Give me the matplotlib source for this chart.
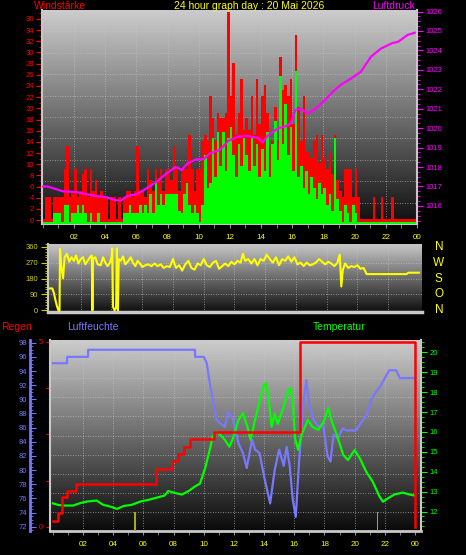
import matplotlib
matplotlib.use('Agg')
import matplotlib.pyplot as plt
import numpy as np
from matplotlib.ticker import MultipleLocator

plt.rcParams['font.family'] = ['Liberation Sans', 'DejaVu Sans']

# ---------------- data ----------------
title = '24 hour graph day : 20 Mai 2026'
hour_ticks = [2, 4, 6, 8, 10, 12, 14, 16, 18, 20, 22, 24]
hour_labels = ['02', '04', '06', '08', '10', '12', '14', '16', '18', '20', '22', '00']

# wind speed, one value per 10 minutes
gust = [
    0, 4, 4, 0, 4, 4,
    4, 4, 9, 13, 4, 5,
    9, 4, 5, 8, 9, 4,
    9, 5, 7, 4, 5, 4,
    4, 0, 4, 4, 0, 4,
    0, 4, 5, 5, 4, 5,
    13, 5, 5, 4, 9, 7,
    5, 9, 7, 9, 5, 9,
    9, 7, 13, 9, 5, 9,
    9, 9, 15, 9, 5, 9,
    9, 14, 15, 14, 22, 18,
    14, 19, 18, 18, 19, 37,
    22, 28, 15, 19, 25, 16,
    18, 16, 22, 15, 25, 17,
    22, 24, 19, 13, 14, 20,
    14, 29, 23, 24, 22, 25,
    17, 33, 20, 14, 22, 12,
    12, 11, 14, 15, 10, 15,
    11, 9, 12, 8, 15, 7,
    5, 4, 9, 9, 9, 4,
    9, 4, 0, 0, 0, 0,
    0, 4, 0, 0, 4, 0,
    0, 0, 4, 0, 0, 0,
    0, 0, 0, 0, 0, 0,
]
avg = [
    0, 0, 0, 0, 1.5, 1.5,
    1.5, 0, 3, 3, 0, 1.5,
    1.5, 3, 1.5, 3, 1.5, 0,
    1.5, 0, 0, 1.5, 0, 0,
    0, 0, 0, 0, 0, 0,
    0, 1.5, 1.5, 3, 1.5, 1.5,
    1.5, 3, 1.5, 3, 1.5, 5,
    1.5, 7, 3, 5, 3, 5,
    5, 5, 5, 5, 2, 1.5,
    5, 7, 3, 1.5, 3, 1.5,
    0, 3, 12, 6, 7, 15,
    8, 16, 10, 16, 9, 15,
    17, 12, 8, 14, 10, 15,
    12, 9, 15, 10, 14, 8,
    13, 9, 16, 8, 14, 18,
    11, 26, 14, 21, 12, 17,
    9, 27, 8, 10, 6, 9,
    5, 8, 6, 4, 7, 5,
    6, 3, 5, 2, 15, 4,
    2, 0, 3, 1.5, 0, 3,
    1.5, 0, 0, 0, 0, 0,
    0, 0, 0, 0, 0, 0,
    0, 0, 0, 0, 0, 0,
    0, 0, 0, 0, 0, 0,
]

press_h = [0, 0.3, 1.3, 2.1, 2.8, 3.5, 4.1, 4.6, 5.0, 5.4, 6.0, 6.65, 7.3, 7.95,
           8.5, 8.7, 8.9, 9.3, 9.85, 10.3, 10.7, 11.35, 11.9, 12.5, 13.1, 13.8,
           14.1, 14.4, 15.1, 15.6, 15.9, 16.2, 16.5, 17.0, 17.4, 18.1, 18.6,
           19.1, 19.8, 20.4, 21.05, 21.7, 22.4, 22.8, 23.4, 23.85]
press = [1017.0, 1017.0, 1016.75, 1016.72, 1016.6, 1016.5, 1016.45, 1016.3,
         1016.27, 1016.5, 1016.6, 1016.9, 1017.25, 1017.68, 1018.0, 1017.95,
         1017.85, 1018.2, 1018.4, 1018.4, 1018.7, 1018.88, 1019.35, 1019.56,
         1019.6, 1019.5, 1019.26, 1019.6, 1020.0, 1020.1, 1020.25, 1020.94,
         1021.0, 1020.77, 1020.94, 1021.45, 1021.88, 1022.22, 1022.57, 1022.9,
         1023.68, 1024.1, 1024.37, 1024.45, 1024.8, 1024.91]

dir_h = [0.0, 0.15, 0.25, 0.35, 0.45, 0.55, 0.62, 0.65, 0.75, 0.85, 0.95, 1.1,
         1.25, 1.4, 1.55, 1.7, 1.85, 2.0, 2.15, 2.3, 2.45, 2.6, 2.72, 2.76, 2.8,
         2.95, 3.1, 3.3, 3.45, 3.6, 3.75, 3.9, 4.0, 4.05, 4.1, 4.2, 4.3, 4.35,
         4.42, 4.47, 4.6, 4.75, 4.9, 5.1, 5.25, 5.4, 5.55, 5.7, 5.85, 6.0, 6.2,
         6.4, 6.6, 6.8, 7.0, 7.2, 7.4, 7.6, 7.8, 8.0, 8.2, 8.4, 8.6, 8.8, 9.0,
         9.2, 9.4, 9.6, 9.8, 10.0, 10.2, 10.4, 10.6, 10.8, 11.0, 11.2, 11.4,
         11.6, 11.8, 12.0, 12.2, 12.4, 12.55, 12.7, 12.9, 13.1, 13.3, 13.5,
         13.7, 13.9, 14.1, 14.3, 14.5, 14.7, 14.9, 15.1, 15.3, 15.5, 15.7,
         15.9, 16.1, 16.3, 16.5, 16.7, 16.9, 17.1, 17.3, 17.5, 17.7, 17.9,
         18.1, 18.3, 18.5, 18.7, 18.85, 18.95, 19.05, 19.2, 19.4, 19.6, 19.8,
         20.0, 20.2, 20.4, 20.6, 23.2, 23.3, 24.0]
dir_deg = [124, 124, 100, 60, 25, 0, 0, 347, 240, 181, 300, 320,
           275, 300, 280, 310, 265, 290, 300, 260, 280, 300, 310, 0, 290,
           300, 260, 255, 300, 270, 250, 270, 300, 350, 20, 0, 15, 350,
           0, 290, 280, 305, 260, 280, 300, 270, 250, 280, 265, 245, 255,
           260, 250, 265, 250, 260, 240, 250, 245, 290, 240, 255, 225, 260, 280,
           240, 230, 265, 255, 290, 255, 245, 270, 280, 235, 250, 265,
           250, 275, 260, 280, 270, 320, 280, 290, 265, 290, 255,
           290, 280, 315, 290, 270, 300, 255, 290, 280, 305, 275,
           300, 260, 270, 250, 270, 255, 260, 270, 290, 275, 260,
           275, 265, 250, 270, 315, 135, 230, 265, 240, 250, 245,
           255, 235, 240, 205, 205, 213, 213]
dir_letters = ['N', 'O', 'S', 'W', 'N']
dir_letter_deg = [0, 90, 180, 270, 360]

hum_h = [0, 0.94, 0.95, 2.33, 2.34, 9.42, 9.43, 10.0, 10.2, 10.4, 10.6, 10.85,
         11.1, 11.4, 11.6, 11.9, 12.3, 12.6, 12.85, 13.2, 13.4, 13.7, 14.0,
         14.4, 14.7, 15.0, 15.3, 15.5, 15.7, 15.9, 16.1, 16.3, 16.6, 16.8,
         17.0, 17.3, 17.6, 17.9, 18.2, 18.4, 18.6, 18.9, 19.2, 19.5, 20.1,
         20.4, 20.8, 21.1, 21.4, 21.75, 22.1, 22.3, 22.75, 23.0, 24.0]
hum = [95.1, 95.1, 96.0, 96.0, 97.0, 97.0, 96.0, 96.0, 95.1, 92.3, 89.9, 87.1,
       86.6, 86.1, 88.2, 87.5, 83.8, 82.4, 80.3, 84.3, 82.9, 82.4, 79.1,
       75.3, 80.0, 82.9, 80.6, 83.3, 80.6, 75.8, 73.4, 80.6, 89.4, 92.7,
       89.0, 87.1, 86.1, 86.6, 82.0, 81.2, 85.0, 84.5, 85.9, 85.6, 85.6,
       86.6, 87.8, 89.9, 91.0, 92.0, 93.4, 94.1, 94.1, 93.0, 93.0]

temp_h = [0, 0.36, 0.7, 1.35, 1.8, 2.25, 2.9, 3.35, 3.8, 4.25, 4.7, 5.2, 5.8,
          6.3, 6.9, 7.4, 7.65, 8.0, 8.55, 9.0, 9.4, 9.75, 10.1, 10.4, 10.6,
          10.9, 11.4, 11.7, 11.9, 12.3, 12.6, 12.9, 13.1, 13.4, 13.8, 14.0,
          14.15, 14.3, 14.5, 14.7, 14.9, 15.3, 15.6, 15.75, 15.9, 16.05, 16.25,
          16.5, 16.9, 17.2, 17.6, 18.0, 18.25, 18.5, 18.8, 19.25, 19.56, 20.0,
          20.33, 20.77, 21.2, 21.66, 21.88, 22.2, 22.65, 23.2, 23.6, 24.0]
temp = [12.41, 12.33, 12.3, 12.3, 12.42, 12.5, 12.55, 12.33, 12.25, 12.13,
        12.28, 12.33, 12.5, 12.58, 12.7, 12.8, 13.03, 12.95, 12.85, 13.03,
        13.25, 13.4, 14.2, 15.1, 15.8, 16.0, 15.6, 15.26, 15.6, 16.6, 16.93,
        16.26, 15.6, 16.6, 17.85, 18.36, 18.44, 17.68, 16.26, 16.93, 16.4,
        17.27, 18.1, 18.2, 17.5, 15.7, 15.1, 15.9, 16.6, 16.26, 16.1, 16.6,
        17.2, 16.5, 15.9, 14.84, 14.59, 15.09, 14.7, 14.0, 13.5, 12.74, 12.49,
        12.66, 12.86, 12.95, 12.86, 12.8]

rain_h = [0, 0.36, 0.59, 0.92, 1.54, 6.82, 7.88, 8.32, 8.7, 9.09, 10.65, 16.35, 24.0]
rain = [0.16, 0.38, 0.82, 0.97, 1.16, 1.56, 1.79, 1.96, 2.17, 2.38, 2.56, 5.0, 0.0]
rainrate_h = [5.45, 21.5]
rainrate = [0.4, 0.4]

# ---------------- style ----------------
RED = '#ff0000'
GREEN = '#00ff00'
MAG = '#ff00ff'
YEL = '#ffff00'
OLIVE = '#d0d000'
BLUE = '#7878ff'
FRAME = '#c8c8c8'
GRID = '#c8c8c8'
W, H = 466, 555
PX = 72 / 100  # points per pixel


def box(l, t, r, b):
    return [l / W, 1 - b / H, (r - l) / W, (b - t) / H]


def shade(ax, top, bottom):
    g = np.linspace(top, bottom, 256).reshape(-1, 1)
    ax.imshow(g, cmap='gray', vmin=0, vmax=1, aspect='auto', extent=(0, 1, 0, 1),
              transform=ax.transAxes, zorder=0, interpolation='bilinear')


def grid(ax, fracs):
    for f in fracs:
        ax.plot([0, 1], [f, f], transform=ax.transAxes, ls=(0, (1, 2)),
                color=GRID, lw=0.6, alpha=0.8, zorder=1)
    for h in hour_ticks[:-1]:
        ax.axvline(h, ls=(0, (1, 2)), color=GRID, lw=0.6, alpha=0.8, zorder=1)


def hide_spines(ax, keep=()):
    for s in ['left', 'right', 'top', 'bottom']:
        if s in keep:
            ax.spines[s].set_color(FRAME)
            ax.spines[s].set_linewidth(1.5)
        else:
            ax.spines[s].set_visible(False)


fig = plt.figure(figsize=(W / 100, H / 100), dpi=100, facecolor='black')

# ---------------- top panel: wind speed + pressure ----------------
ax1 = fig.add_axes(box(42, 10, 417, 224))
ax1.set_facecolor('black')
shade(ax1, 0.80, 0.06)
grid(ax1, np.arange(1, 10) / 10)
slots = np.arange(len(gust)) / 6.0
ax1.bar(slots, np.array(gust) + 0.9, bottom=-0.7, width=1 / 6, align='edge',
        color=RED, lw=0, zorder=2)
ax1.bar(slots, np.array(avg) + 0.4, bottom=-0.7, width=1 / 6, align='edge',
        color=GREEN, lw=0, zorder=3)
ax1.set_xlim(-0.05, 24)
ax1.set_ylim(-0.7, 37.6)
ax1.set_yticks(np.arange(0, 37, 2))
ax1.yaxis.set_minor_locator(MultipleLocator(1))
ax1.tick_params(axis='y', which='both', colors=RED, labelsize=5.5, pad=2)
ax1.tick_params(axis='y', which='major', length=4)
ax1.tick_params(axis='y', which='minor', length=2)
ax1.set_xticks(hour_ticks, hour_labels)
ax1.xaxis.set_minor_locator(MultipleLocator(1))
ax1.tick_params(axis='x', which='both', colors='#909090', labelcolor=YEL,
                labelsize=5.8, length=3, pad=4)
hide_spines(ax1, keep=('left', 'bottom'))

ax1p = ax1.twinx()
ax1p.plot(press_h, press, color=MAG, lw=1.6, zorder=4)
ax1p.set_ylim(1015.07, 1026.08)
ax1p.set_yticks(np.arange(1016, 1027, 1))
ax1p.yaxis.set_minor_locator(MultipleLocator(0.25))
ax1p.tick_params(axis='y', which='both', colors=MAG, labelsize=5.5, pad=2)
ax1p.tick_params(axis='y', which='major', length=4)
ax1p.tick_params(axis='y', which='minor', length=2)
hide_spines(ax1p, keep=('right',))

fig.text(34 / W, 1 - 6 / H, 'Windstärke', color=RED, fontsize=7.5, va='center')
fig.text(249 / W, 1 - 6 / H, title, color=YEL, fontsize=7.5, va='center', ha='center')
fig.text(372 / W, 1 - 6 / H, 'Luftdruck', color=MAG, fontsize=7.5, va='center')

# ---------------- middle panel: wind direction ----------------
ax2 = fig.add_axes(box(48, 244, 422, 312))
ax2.set_facecolor('black')
shade(ax2, 0.78, 0.06)
ax2.plot(dir_h, dir_deg, color=YEL, lw=1.5, zorder=3)
ax2.set_xlim(-0.13, 24.2)
ax2.set_ylim(-9, 375)
ax2.set_yticks([0, 90, 180, 270, 360])
ax2.yaxis.set_minor_locator(MultipleLocator(15))
for d in [90, 180, 270]:
    ax2.axhline(d, ls=(0, (1, 2)), color=GRID, lw=0.6, alpha=0.8, zorder=1)
for h in hour_ticks[:-1]:
    ax2.axvline(h, ls=(0, (1, 2)), color=GRID, lw=0.6, alpha=0.8, zorder=1)
ax2.tick_params(axis='y', which='both', colors=OLIVE, labelsize=5.5, pad=2)
ax2.tick_params(axis='y', which='major', length=5)
ax2.tick_params(axis='y', which='minor', length=2)
ax2.tick_params(axis='x', length=0, labelbottom=False)
hide_spines(ax2, keep=('left', 'bottom'))
ax2.spines['bottom'].set_linewidth(2.5)
for d, letter in zip(dir_letter_deg, dir_letters):
    ax2.text(1.045, d, letter, transform=ax2.get_yaxis_transform(), color=YEL,
             fontsize=8.5, ha='center', va='center')

fig.text(1 / W, 1 - 327 / H, 'Regen', color=RED, fontsize=7.5, va='center')
fig.text(67 / W, 1 - 327 / H, 'Luftfeuchte', color=BLUE, fontsize=7.5, va='center')
fig.text(313 / W, 1 - 327 / H, 'Temperatur', color=GREEN, fontsize=7.5, va='center')

# ---------------- bottom panel: humidity, temperature, rain ----------------
ax3 = fig.add_axes(box(50, 340, 421, 531))
ax3.set_facecolor('black')
shade(ax3, 0.80, 0.04)
grid(ax3, np.arange(1, 10) / 10)
ax3.plot(hum_h, hum, color=BLUE, lw=1.6, zorder=3)
ax3.set_xlim(-0.19, 24.4)
ax3.set_ylim(71.4, 98.38)
ax3.set_yticks(np.arange(72, 99, 2))
ax3.yaxis.set_minor_locator(MultipleLocator(0.5))
ax3.tick_params(axis='y', which='both', colors=BLUE, labelsize=5.5, direction='in', pad=2)
ax3.tick_params(axis='y', which='major', length=4)
ax3.tick_params(axis='y', which='minor', length=2)
ax3.set_xticks(hour_ticks, hour_labels)
ax3.xaxis.set_minor_locator(MultipleLocator(1))
ax3.tick_params(axis='x', which='both', colors='#909090', labelcolor=YEL,
                labelsize=5.8, length=3, pad=4)
hide_spines(ax3, keep=('left', 'bottom'))
ax3.spines['left'].set_position(('outward', 20 * PX))
ax3.spines['left'].set_color(BLUE)
ax3.spines['left'].set_linewidth(2)
ax3.spines['bottom'].set_linewidth(2)

ax3t = ax3.twinx()
ax3t.plot(temp_h, temp, color=GREEN, lw=1.6, zorder=4)
ax3t.set_ylim(11.02, 20.62)
ax3t.set_yticks(np.arange(12, 21, 1))
ax3t.yaxis.set_minor_locator(MultipleLocator(0.25))
ax3t.tick_params(axis='y', which='both', colors=GREEN, labelsize=5.5, pad=2)
ax3t.tick_params(axis='y', which='major', length=4)
ax3t.tick_params(axis='y', which='minor', length=2)
hide_spines(ax3t, keep=('right',))

ax3r = ax3.twinx()
ax3r.yaxis.tick_left()
ax3r.plot(rain_h, rain, color=RED, lw=1.8, drawstyle='steps-post', zorder=5)
ax3r.bar(rainrate_h, np.array(rainrate) + 0.11, bottom=-0.11, width=0.08,
         color='#a8a820', lw=0, zorder=2)
ax3r.set_ylim(-0.11, 5.05)
ax3r.set_yticks([0, 1.25, 2.5, 3.75, 5], ['0', '', '', '', '5'])
ax3r.tick_params(axis='y', colors=RED, labelsize=5.5, length=3, pad=2)
hide_spines(ax3r, keep=('left',))

fig.savefig('out.png', dpi=100, facecolor='black')
